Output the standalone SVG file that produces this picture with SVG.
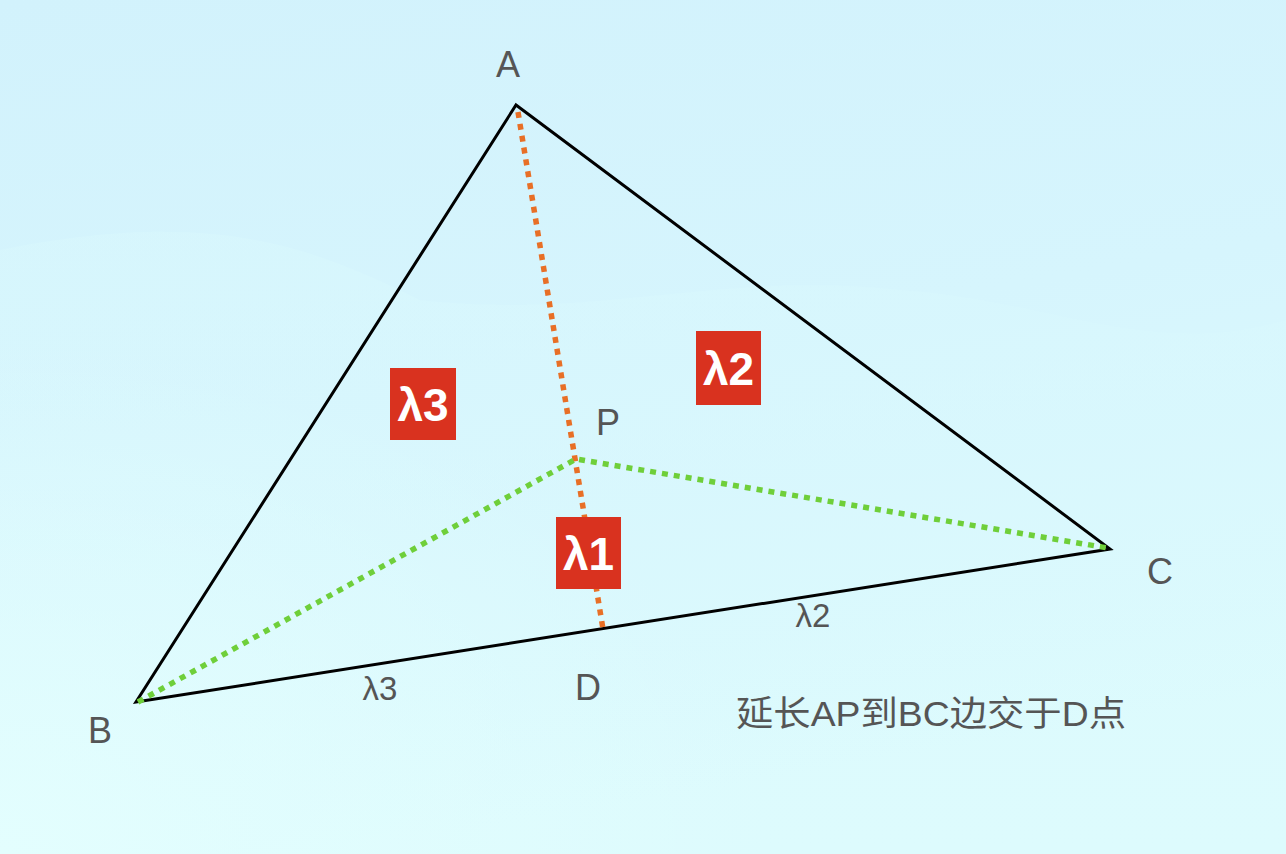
<svg xmlns="http://www.w3.org/2000/svg" width="1286" height="854" viewBox="0 0 1286 854">
<defs>
<linearGradient id="bg" x1="0" y1="0" x2="0.25" y2="1">
<stop offset="0" stop-color="#d2f2fc"/>
<stop offset="0.5" stop-color="#d6f5fd"/>
<stop offset="1" stop-color="#ddfbfd"/>
</linearGradient>
<linearGradient id="wave" x1="0" y1="0" x2="0" y2="1">
<stop offset="0" stop-color="#d9f8fd" stop-opacity="0.9"/>
<stop offset="1" stop-color="#d9f8fd" stop-opacity="0"/>
</linearGradient>
<radialGradient id="corner" cx="0" cy="1" r="0.6">
<stop offset="0" stop-color="#e3fefe"/>
<stop offset="1" stop-color="#e3fefe" stop-opacity="0"/>
</radialGradient>
<style>
.lbl{font-family:"Liberation Sans",Arial,sans-serif;fill:#555555;text-anchor:middle}
.big{font-size:36px}
.sm{font-size:33px}
.box{fill:#d9321f}
.boxt{font-family:"Liberation Sans",Arial,sans-serif;font-weight:bold;font-size:46px;fill:#ffffff;text-anchor:middle}
.edge{stroke:#000000;stroke-width:3;fill:none;stroke-linejoin:miter}
.dotO{stroke:#e86f26;stroke-width:5.5;stroke-dasharray:6 6;fill:none}
.dotG{stroke:#6fcf3a;stroke-width:5.5;stroke-dasharray:6 6;fill:none}
</style>
</defs>
<rect width="1286" height="854" fill="url(#bg)"/>
<path d="M0 250 C200 210 300 240 420 300 C600 320 720 270 900 290 C1050 300 1150 360 1286 320 L1286 854 L0 854 Z" fill="url(#wave)" opacity="0.6"/>
<rect width="1286" height="854" fill="url(#corner)"/>
<g id="connectors">
<polygon class="edge" points="516,105 1110,549 136,702"/>
<line class="dotO" x1="518" y1="112" x2="603" y2="629"/>
<polyline class="dotG" points="138,702 576,459 1108,548"/>
</g>
<g id="node-A"><text class="lbl big" x="508" y="77">A</text></g>
<g id="node-B"><text class="lbl big" x="100" y="743">B</text></g>
<g id="node-C"><text class="lbl big" x="1160" y="584">C</text></g>
<g id="node-D"><text class="lbl big" x="588" y="700">D</text></g>
<g id="node-P"><text class="lbl big" x="608" y="435">P</text></g>
<g id="label-l3-edge"><text class="lbl sm" x="380" y="700">λ3</text></g>
<g id="label-l2-edge"><text class="lbl sm" x="813" y="627">λ2</text></g>
<g id="box-l3"><rect class="box" x="390" y="368" width="66" height="72"/><text class="boxt" x="423" y="421">λ3</text></g>
<g id="box-l1"><rect class="box" x="556" y="517" width="65" height="72"/><text class="boxt" x="588.5" y="570">λ1</text></g>
<g id="box-l2"><rect class="box" x="696" y="331" width="65" height="74"/><text class="boxt" x="728.5" y="385">λ2</text></g>
<g id="note"><text x="736" y="726" font-family="'Liberation Sans','Noto Sans CJK SC',sans-serif" font-size="35" fill="#555555" textLength="390" lengthAdjust="spacingAndGlyphs">延长AP到BC边交于D点</text></g>
</svg>
